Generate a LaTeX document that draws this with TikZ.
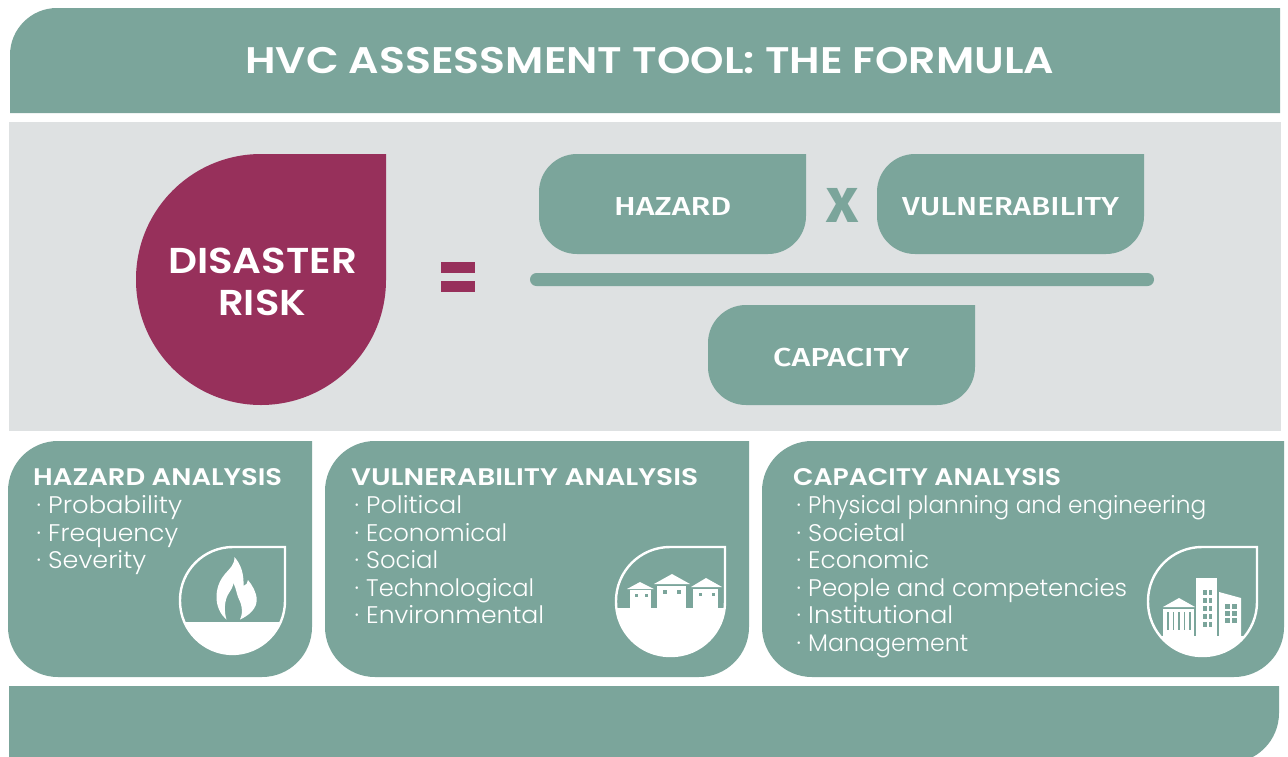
\documentclass[tikz,border=0pt]{standalone}
\usepackage{graphicx}
\usepackage{fontspec}
\setmainfont{Poppins}[BoldFont={Poppins SemiBold}]
\newfontfamily\din{Fira Sans Medium}
\newfontfamily\lite{Poppins Light}
\definecolor{teal}{HTML}{7BA59B}
\definecolor{wine}{HTML}{97305B}
\definecolor{pale}{HTML}{DEE1E2}
\newlength\fwlen
\newcommand\fw[2]{\settowidth\fwlen{#2}\pgfmathsetmacro\fwscale{#1/\fwlen}\scalebox{\fwscale}[1]{#2}}
\newcommand\lst[2]{\makebox[11pt][l]{\hspace{-0.5pt}·}\fw{#1}{#2}}
% x1 y1 x2 y2 rTL rBL rBR rTR
\newcommand\rpath[8]{%
  (#1+#5,#2) .. controls (#1+0.4477*#5,#2) and (#1,#2+0.4477*#5) .. (#1,#2+#5)
  -- (#1,#4-#6) .. controls (#1,#4-0.4477*#6) and (#1+0.4477*#6,#4) .. (#1+#6,#4)
  -- (#3-#7,#4) .. controls (#3-0.4477*#7,#4) and (#3,#4-0.4477*#7) .. (#3,#4-#7)
  -- (#3,#2+#8) .. controls (#3,#2+0.4477*#8) and (#3-0.4477*#8,#2) .. (#3-#8,#2) -- cycle}
\tikzset{
  x=1pt,y=-1pt,
  title/.style={inner sep=0pt,anchor=base west,text=white,font=\bfseries\fontsize{37}{37}\selectfont},
  risk/.style={inner sep=0pt,anchor=base west,text=white,font=\bfseries\fontsize{36}{36}\selectfont},
  term/.style={inner sep=0pt,anchor=base west,text=white,font=\din\fontsize{26}{26}\selectfont},
  head/.style={inner sep=0pt,anchor=base west,text=white,font=\bfseries\fontsize{24}{24}\selectfont},
  item/.style={inner sep=0pt,anchor=base west,text=white,font=\lite\fontsize{24}{24}\selectfont},
  icon/.style={draw=white,line width=2.4pt},
  win/.style={fill=teal},
}
\begin{document}
\begin{tikzpicture}
\useasboundingbox (0,0) rectangle (1288,756);
\fill[white] (0,0) rectangle (1288,756);
\begin{scope}
\clip (0,0) rectangle (1288,756);
\fill[teal] \rpath{10}{8}{1280}{113}{47}{0}{0}{0};
\fill[pale] (9,122) rectangle (1281,431);
\fill[teal] \rpath{9}{686}{1279}{763}{0}{0}{50}{0};
\end{scope}
\node[title] (t) at (245,73) {\fw{809}{HVC ASSESSMENT TOOL: THE FORMULA}};
% drop
\fill[wine] \rpath{136}{154}{386}{405}{125}{125}{125}{0};
\node[risk] (r1) at (168,273) {\fw{189}{DISASTER}};
\node[risk] (r2) at (218,315) {\fw{88}{RISK}};
\fill[wine] (441,262) rectangle (475,273);
\fill[wine] (441,281) rectangle (475,292);
% formula
\fill[teal] \rpath{539}{154}{806}{254}{38}{38}{38}{0};
\fill[teal] \rpath{877}{154}{1144}{254}{38}{38}{38}{0};
\fill[teal] \rpath{708}{305}{975}{405}{38}{38}{38}{0};
\fill[teal,rounded corners=6.5pt] (530,273) rectangle (1154,286);
\node[term] (h) at (614,215) {\fw{117}{HAZARD}};
\node[term] (v) at (902,215) {\fw{217}{VULNERABILITY}};
\node[term] (c) at (773,366) {\fw{136}{CAPACITY}};
\node[term,text=teal,font=\din\bfseries\fontsize{49}{49}\selectfont] (x) at (826,222) {\fw{32}{X}};
% panels
\fill[teal] \rpath{8}{441}{312}{677}{50}{50}{50}{0};
\fill[teal] \rpath{325}{441}{749}{677}{50}{50}{50}{0};
\fill[teal] \rpath{762}{441}{1284}{677}{50}{50}{50}{0};
% texts
\node[head] (ha) at (33,485) {\fw{249}{HAZARD ANALYSIS}};
\node[item] (h1) at (37,513) {\lst{134}{Probability}};
\node[item] (h2) at (37,541) {\lst{130}{Frequency}};
\node[item] (h3) at (37,568) {\lst{98}{Severity}};
\node[head] (va) at (351,485) {\fw{347}{VULNERABILITY ANALYSIS}};
\node[item] (v1) at (355,513) {\lst{96}{Political}};
\node[item] (v2) at (355,541) {\lst{141}{Economical}};
\node[item] (v3) at (355,568) {\lst{72}{Social}};
\node[item] (v4) at (355,596) {\lst{168}{Technological}};
\node[item] (v5) at (355,623) {\lst{178}{Environmental}};
\node[head] (ca) at (793,485) {\fw{268}{CAPACITY ANALYSIS}};
\node[item] (c1) at (797,513) {\lst{398}{Physical planning and engineering}};
\node[item] (c2) at (797,541) {\lst{97}{Societal}};
\node[item] (c3) at (797,568) {\lst{121}{Economic}};
\node[item] (c4) at (797,596) {\lst{319}{People and competencies}};
\node[item] (c5) at (797,623) {\lst{145}{Institutional}};
\node[item] (c6) at (797,651) {\lst{160}{Management}};
% hazard icon
\begin{scope}
\clip \rpath{180}{547}{285}{654}{53}{53}{53}{0};
\fill[white] (170,622) rectangle (295,660);
\end{scope}
\draw[icon] \rpath{180}{547}{285}{654}{53}{53}{53}{0};
\fill[white] (234.3,557) .. controls (235,565) and (229,569) .. (225,574)
  .. controls (219,581) and (216.5,589) .. (216.5,597)
  .. controls (216.5,606) and (220,614) .. (226.5,619.5)
  .. controls (224,612) and (224,600) .. (229,593)
  .. controls (231,590) and (233,587) .. (233.3,583)
  .. controls (236,588) and (236.5,593) .. (238,597)
  .. controls (241,603) and (244,611) .. (240,619.5)
  .. controls (250,615) and (256.7,608) .. (256.7,600)
  .. controls (256.7,592) and (252,585) .. (248,580)
  .. controls (248,583) and (246,585) .. (243.5,586)
  .. controls (244,574) and (241,564) .. (234.3,557) -- cycle;
% vulnerability icon
\begin{scope}
\clip \rpath{616}{547}{725}{656}{54}{54}{54}{0};
\fill[white] (606,608) rectangle (735,665);
\end{scope}
\draw[icon] \rpath{616}{547}{725}{656}{54}{54}{54}{0};
\fill[white] (640,582) -- (654,589) -- (627,589) -- cycle;
\fill[white] (630,590) rectangle (651,608);
\fill[white] (672,574) -- (690,584) -- (654,584) -- cycle;
\fill[white] (657,586) rectangle (686,608);
\fill[white] (706,578) -- (722,587) -- (691,587) -- cycle;
\fill[white] (693,589) rectangle (718,608);
\foreach \wx/\wy/\ws in {636/595/3,646/595/3,665/592/4,679/592/4,700/594/3,713/594/3}
  \fill[win] (\wx-\ws/2,\wy-\ws/2) rectangle (\wx+\ws/2,\wy+\ws/2);
% capacity icon
\begin{scope}
\clip \rpath{1148}{547}{1257}{656}{54}{54}{54}{0};
\fill[white] (1140,636) rectangle (1265,665);
\end{scope}
\draw[icon] \rpath{1148}{547}{1257}{656}{54}{54}{54}{0};
\fill[white] (1196,578) rectangle (1217,636);
\fill[white] (1219,592) -- (1241,598) -- (1241,636) -- (1219,636) -- cycle;
\fill[white] (1179,598) -- (1195,607) -- (1163,607) -- cycle;
\fill[white] (1163,609) rectangle (1194,636);
\foreach \wy in {590,598,606,614,622} {
  \fill[win] (1203,\wy) rectangle (1206.5,\wy+5);
  \fill[win] (1208.5,\wy) rectangle (1212,\wy+5);
}
\foreach \wy in {604,611,618} {
  \fill[win] (1225,\wy) rectangle (1230,\wy+4.5);
  \fill[win] (1231.5,\wy) rectangle (1236.5,\wy+4.5);
}
\foreach \wx in {1167,1172.5,1178,1183.5,1189}
  \fill[win] (\wx,612) rectangle (\wx+1.8,630);
\end{tikzpicture}
\end{document}
